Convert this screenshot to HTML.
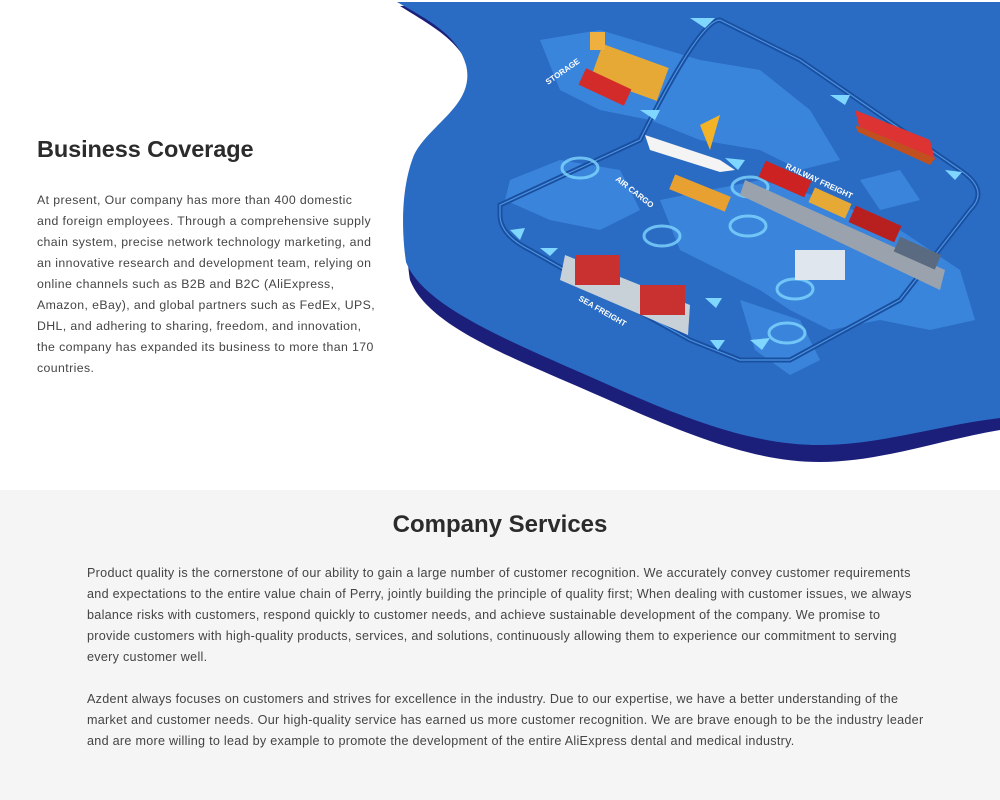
<!DOCTYPE html>
<html><head><meta charset="utf-8"><style>
*{margin:0;padding:0;box-sizing:border-box}
body{width:1000px;height:800px;overflow:hidden;background:#fff;font-family:"Liberation Sans",sans-serif;position:relative}
.h1{position:absolute;left:37px;top:136px;font-size:23.5px;font-weight:bold;color:#2b2b2b;letter-spacing:-0.1px}
.p1{position:absolute;left:37px;top:190px;font-size:12.3px;line-height:21px;color:#444;white-space:nowrap;letter-spacing:0.4px}
.sec{position:absolute;left:0;top:490px;width:1000px;height:310px;background:#f5f5f5}
.h2{position:absolute;top:511px;width:1000px;text-align:center;font-size:24px;font-weight:bold;color:#2b2b2b;left:0}
.p2{position:absolute;left:87px;top:563px;font-size:12.6px;line-height:21px;color:#444;white-space:nowrap;letter-spacing:0.28px}
svg{position:absolute;left:0;top:0}
</style></head><body>
<svg width="1000" height="490" viewBox="0 0 1000 490">
<path d="M400,6 C430,25 460,40 470,70 C480,110 430,130 418,160 C405,200 405,250 410,280 C430,330 520,360 620,405 C700,440 760,462 820,462 C880,462 940,440 1000,430 L1000,6 Z" fill="#1c1f7a"/>
<path d="M397,2 C428,20 458,35 466,65 C476,105 428,125 414,155 C400,190 402,235 406,262 C425,310 520,345 620,390 C700,425 760,445 820,445 C880,445 940,425 1000,418 L1000,2 Z" fill="#2a6cc4"/>
<g fill="#3d8ae0" opacity="0.85">
<path d="M540,40 L600,30 L700,60 L760,70 L810,110 L840,160 L800,170 L760,150 L700,140 L650,120 L600,110 L560,90 Z"/>
<path d="M510,180 L560,160 L620,170 L640,210 L600,230 L550,220 L505,200 Z"/>
<path d="M660,200 L760,180 L830,200 L900,230 L960,270 L975,320 L930,330 L880,320 L830,330 L790,310 L760,290 L720,270 L680,250 Z"/>
<path d="M740,300 L800,320 L820,360 L790,375 L755,350 Z"/>
<path d="M860,180 L900,170 L920,200 L880,210 Z"/>
</g>
<path d="M500,205 L640,140 Q700,20 720,20 L800,60 L960,170 Q990,190 970,210 L900,300 L790,360 L740,360 L690,340 L600,290 L530,250 Q500,235 500,215 Z" fill="none" stroke="#1a4fa0" stroke-width="5"/>
<path d="M500,205 L640,140 Q700,20 720,20 L800,60 L960,170 Q990,190 970,210 L900,300 L790,360 L740,360 L690,340 L600,290 L530,250 Q500,235 500,215 Z" fill="none" stroke="#5fb0ff" stroke-width="1.2" opacity="0.7"/>
<g fill="none" stroke="#7fd6ff" stroke-width="3" opacity="0.8">
<ellipse cx="580" cy="168" rx="18" ry="10"/><ellipse cx="662" cy="236" rx="18" ry="10"/><ellipse cx="750" cy="187" rx="18" ry="10"/><ellipse cx="748" cy="226" rx="18" ry="10"/><ellipse cx="795" cy="289" rx="18" ry="10"/><ellipse cx="787" cy="333" rx="18" ry="10"/>
</g>
<g fill="#7fd6ff"><polygon points="690,18 715,18 705,28"/><polygon points="830,95 850,95 845,105"/><polygon points="945,170 962,172 955,180"/><polygon points="510,230 525,228 520,240"/><polygon points="540,248 558,248 550,256"/><polygon points="705,298 722,298 716,308"/><polygon points="710,340 725,340 718,350"/><polygon points="750,340 770,338 762,350"/><polygon points="640,110 660,110 655,120"/><polygon points="725,158 745,160 738,170"/></g>
<rect x="595" y="55" width="70" height="35" fill="#e6a936" transform="rotate(20 630 72)"/>
<rect x="590" y="32" width="15" height="18" fill="#f0b040"/>
<rect x="580" y="78" width="50" height="18" fill="#d32a2a" transform="rotate(25 605 87)"/>
<path d="M645,135 L720,160 L735,170 L720,172 L650,150 Z" fill="#f4f4f4"/>
<path d="M700,125 L720,115 L710,150 Z" fill="#f2b326"/>
<path d="M855,110 L930,140 L935,160 L860,130 Z" fill="#d33"/><path d="M855,125 L935,158 L930,165 L858,132 Z" fill="#c05020"/>
<rect x="670" y="185" width="60" height="16" fill="#e8a030" transform="rotate(22 700 193)"/>
<path d="M745,180 L945,270 L940,290 L740,195 Z" fill="#9aa3ad"/>
<rect x="760" y="170" width="50" height="18" fill="#c22" transform="rotate(24 785 179)"/>
<rect x="810" y="195" width="40" height="16" fill="#e6a936" transform="rotate(24 830 203)"/>
<rect x="850" y="215" width="50" height="18" fill="#b82020" transform="rotate(24 875 224)"/>
<rect x="895" y="245" width="45" height="16" fill="#5a6a80" transform="rotate(24 917 253)"/>
<rect x="795" y="250" width="50" height="30" fill="#dfe6ee"/>
<path d="M565,255 L690,305 L688,335 L560,280 Z" fill="#c8d0d8"/>
<rect x="640" y="285" width="45" height="30" fill="#c93030"/>
<rect x="575" y="255" width="45" height="30" fill="#c93030"/>
<g fill="#fff" font-family="Liberation Sans" font-size="8" font-weight="bold">
<text x="548" y="85" transform="rotate(-35 548 85)">STORAGE</text>
<text x="615" y="180" transform="rotate(38 615 180)">AIR CARGO</text>
<text x="785" y="168" transform="rotate(25 785 168)">RAILWAY FREIGHT</text>
<text x="578" y="300" transform="rotate(30 578 300)">SEA FREIGHT</text>
</g>
</svg>
<div class="h1">Business Coverage</div>
<div class="p1">At present, Our company has more than 400 domestic<br>and foreign employees. Through a comprehensive supply<br>chain system, precise network technology marketing, and<br>an innovative research and development team, relying on<br>online channels such as B2B and B2C (AliExpress,<br>Amazon, eBay), and global partners such as FedEx, UPS,<br>DHL, and adhering to sharing, freedom, and innovation,<br>the company has expanded its business to more than 170<br>countries.</div>
<div class="sec"></div>
<div class="h2">Company Services</div>
<div class="p2">Product quality is the cornerstone of our ability to gain a large number of customer recognition. We accurately convey customer requirements<br>and expectations to the entire value chain of Perry, jointly building the principle of quality first; When dealing with customer issues, we always<br>balance risks with customers, respond quickly to customer needs, and achieve sustainable development of the company. We promise to<br>provide customers with high-quality products, services, and solutions, continuously allowing them to experience our commitment to serving<br>every customer well.<br><br>Azdent always focuses on customers and strives for excellence in the industry. Due to our expertise, we have a better understanding of the<br>market and customer needs. Our high-quality service has earned us more customer recognition. We are brave enough to be the industry leader<br>and are more willing to lead by example to promote the development of the entire AliExpress dental and medical industry.</div>
</body></html>
